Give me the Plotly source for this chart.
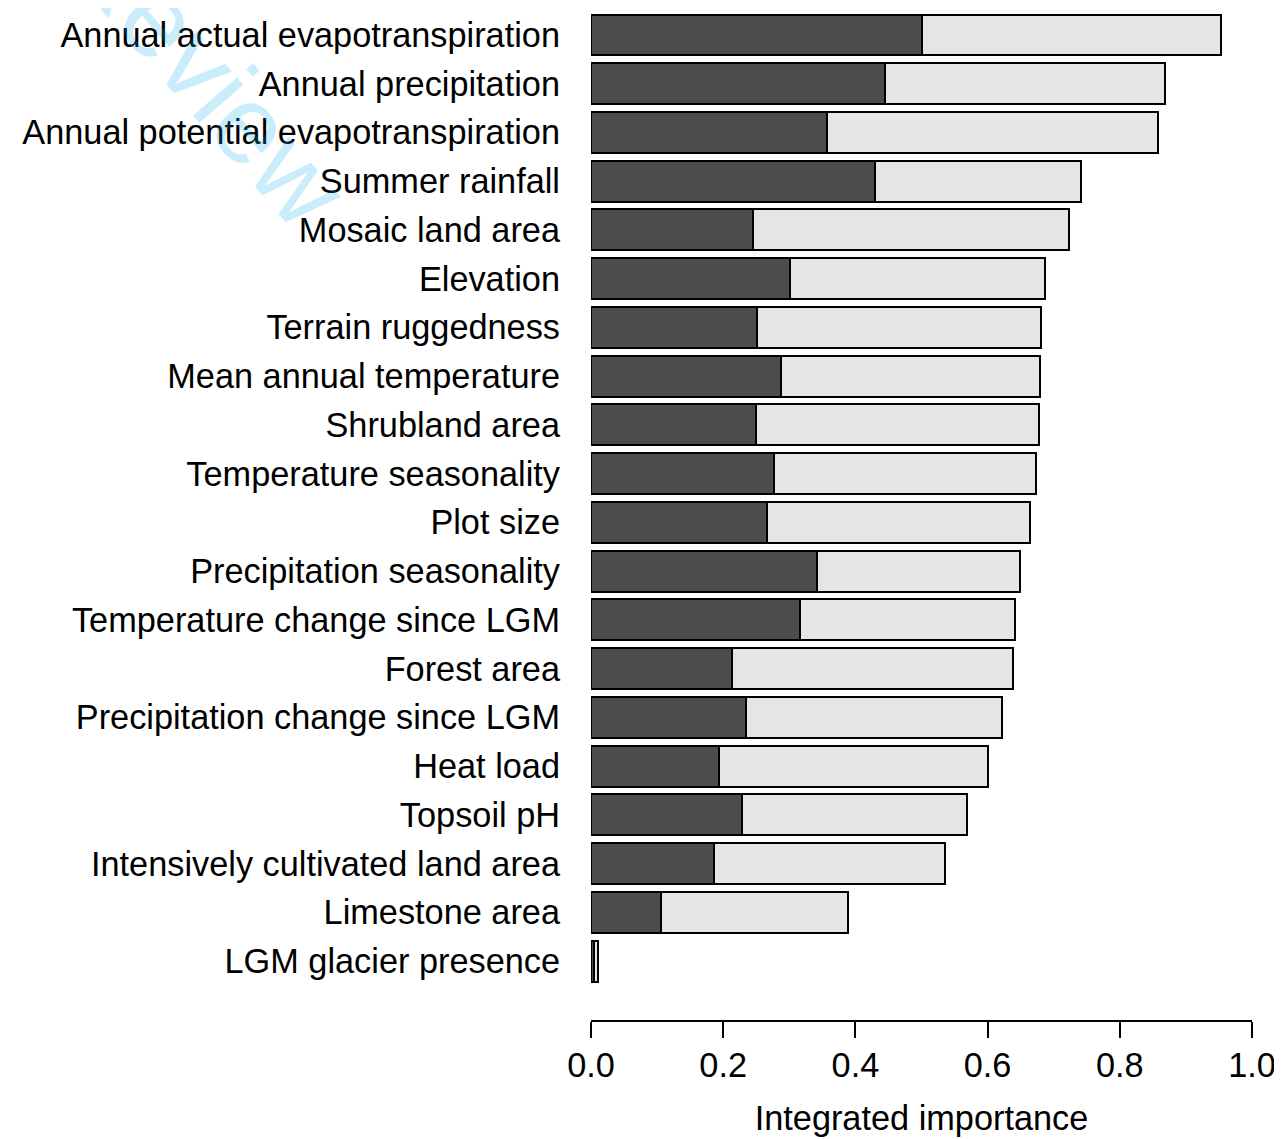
import plotly.graph_objects as go

# variables, top to bottom as in the figure
variables = [
    "Annual actual evapotranspiration", "Annual precipitation",
    "Annual potential evapotranspiration", "Summer rainfall",
    "Mosaic land area", "Elevation", "Terrain ruggedness",
    "Mean annual temperature", "Shrubland area", "Temperature seasonality",
    "Plot size", "Precipitation seasonality", "Temperature change since LGM",
    "Forest area", "Precipitation change since LGM", "Heat load",
    "Topsoil pH", "Intensively cultivated land area", "Limestone area",
    "LGM glacier presence",
]
# dark part (left segment) and total bar length
dark_part = [0.501, 0.445, 0.357, 0.430, 0.245, 0.301, 0.251, 0.287, 0.250, 0.277,
             0.266, 0.342, 0.316, 0.213, 0.234, 0.194, 0.228, 0.186, 0.106, 0.005]
total = [0.953, 0.868, 0.858, 0.741, 0.723, 0.687, 0.681, 0.679, 0.678, 0.673,
         0.664, 0.649, 0.641, 0.638, 0.622, 0.601, 0.569, 0.536, 0.389, 0.010]
light_part = [round(t - d, 3) for t, d in zip(total, dark_part)]

x_ticks = [0.0, 0.2, 0.4, 0.6, 0.8, 1.0]

FONT = "Liberation Sans, Arial, sans-serif"
W, H = 1274, 1131
ML, MR, MT, MB = 583, 30, 0, 119
plot_w = W - ML - MR
plot_h = H - MT - MB

fig = go.Figure()
fig.add_trace(go.Bar(
    y=variables, x=dark_part, orientation="h", width=0.84,
    marker=dict(color="#4d4d4d", line=dict(color="black", width=2)),
    showlegend=False,
))
fig.add_trace(go.Bar(
    y=variables, x=light_part, orientation="h", width=0.84,
    marker=dict(color="#e5e5e5", line=dict(color="black", width=2)),
    showlegend=False,
))

# faint watermark in top-left corner (anchor given in figure pixels)
wm_x, wm_y = 32, -114
fig.add_annotation(
    text="Review", xref="paper", yref="paper",
    x=(wm_x - ML) / plot_w, y=1 - (wm_y - MT) / plot_h,
    showarrow=False, textangle=49,
    font=dict(family=FONT, size=110, color="rgba(20,170,235,0.22)"),
)

fig.update_layout(
    barmode="stack",
    width=W, height=H,
    margin=dict(l=ML, r=MR, t=MT, b=MB),
    plot_bgcolor="white", paper_bgcolor="white",
    font=dict(family=FONT, size=34.3, color="black"),
    bargap=0,
)
fig.update_xaxes(
    range=[0, 1], tickvals=x_ticks, ticktext=[f"{v:.1f}" for v in x_ticks],
    showgrid=False, zeroline=False, showline=True, linecolor="black", linewidth=1.5,
    ticks="outside", ticklen=16, tickwidth=1.5, tickcolor="black",
    ticklabelstandoff=-2,
    title=dict(text="Integrated importance", standoff=23, font=dict(size=34.3)),
)
fig.update_yaxes(
    categoryorder="array", categoryarray=variables[::-1],
    range=[-1.21, 19.554],
    showgrid=False, zeroline=False, showline=False, ticks="",
    ticklabelstandoff=30,
)

fig.write_html("out.html")
